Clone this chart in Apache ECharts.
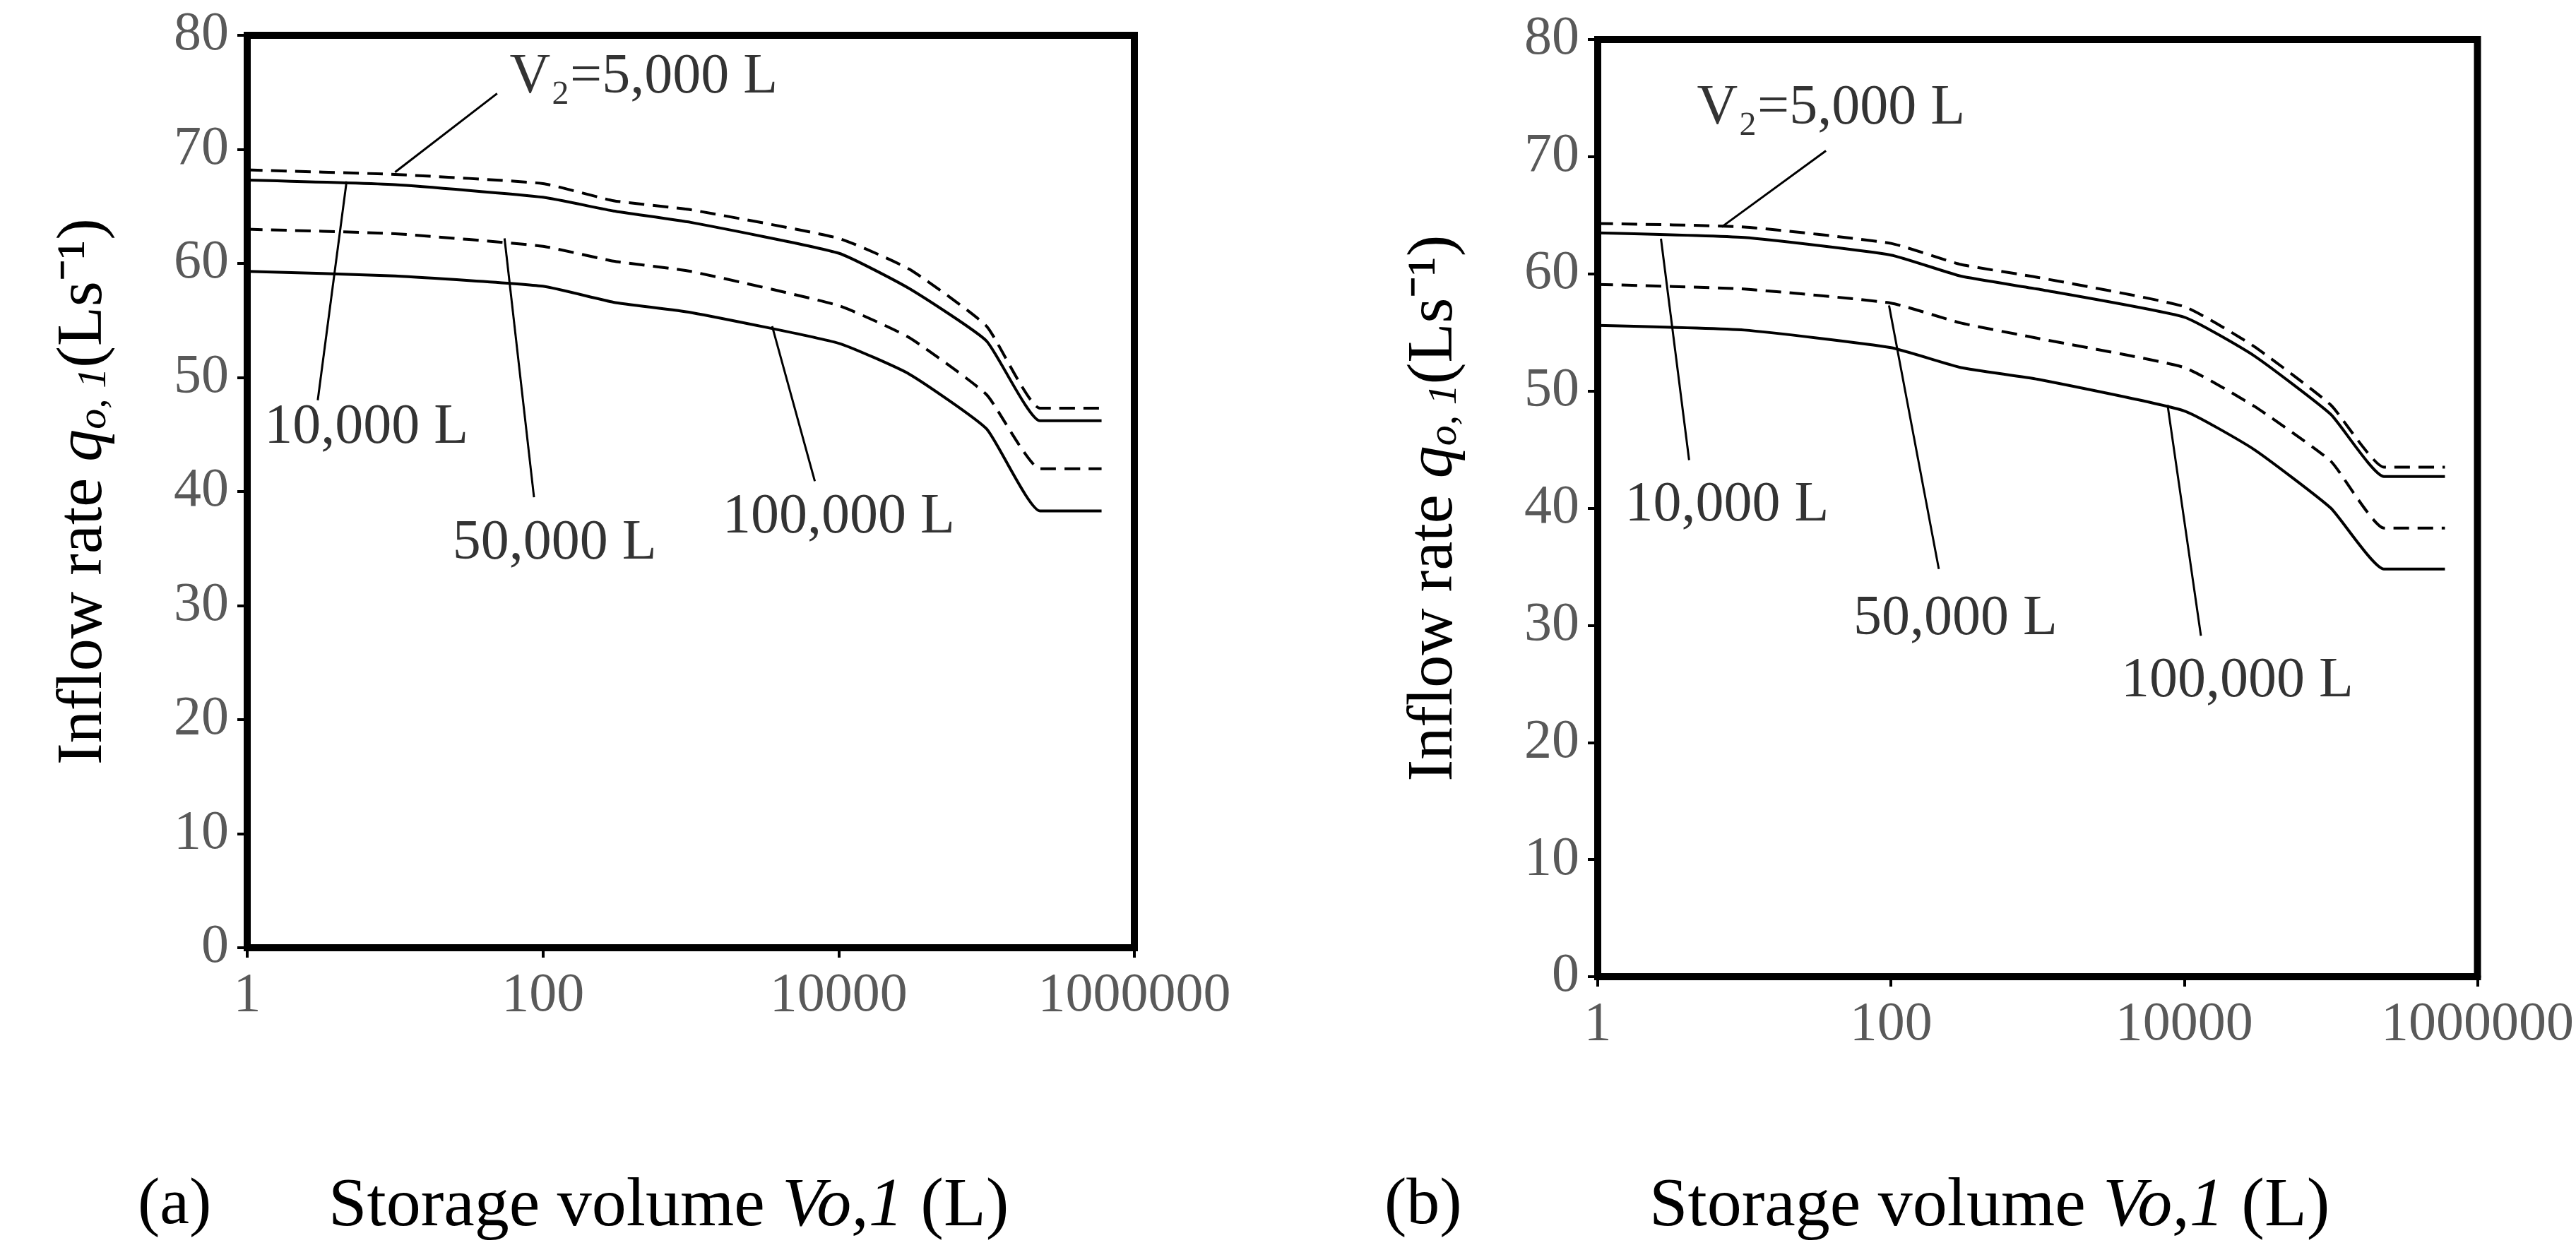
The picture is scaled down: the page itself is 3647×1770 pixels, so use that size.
<!DOCTYPE html>
<html><head><meta charset="utf-8">
<script src="https://cdn.jsdelivr.net/npm/echarts@6/dist/echarts.min.js"></script>
<style>html,body{margin:0;background:#fff}#c{width:3647px;height:1770px}</style>
</head><body><div id="c"></div>
<script>
// storage volume Vo,1 (L)
const volumes = [1, 10, 100, 300, 1000, 10000, 30000, 100000, 230000, 600000];

// panel (a) inflow rate (L/s) for each V2
const a5000   = [68.2, 67.8, 67.0, 65.5, 64.7, 62.2, 59.5, 54.5, 47.3, 47.3];
const a10000  = [67.3, 66.9, 65.8, 64.6, 63.6, 60.9, 57.8, 53.2, 46.2, 46.2];
const a50000  = [63.0, 62.6, 61.5, 60.2, 59.3, 56.3, 53.5, 48.5, 42.0, 42.0];
const a100000 = [59.3, 58.9, 58.0, 56.6, 55.7, 53.0, 50.3, 45.5, 38.3, 38.3];

// panel (b)
const b5000   = [64.3, 64.0, 62.6, 60.8, 59.7, 57.2, 53.8, 48.8, 43.5, 43.5];
const b10000  = [63.5, 63.1, 61.6, 59.8, 58.7, 56.3, 53.0, 48.0, 42.7, 42.7];
const b50000  = [59.1, 58.7, 57.5, 55.8, 54.5, 52.0, 48.7, 44.0, 38.3, 38.3];
const b100000 = [55.6, 55.2, 53.7, 52.0, 51.0, 48.3, 45.0, 40.0, 34.8, 34.8];

const xTicks = [1, 100, 10000, 1000000];
const yTicks = [0, 10, 20, 30, 40, 50, 60, 70, 80];

// annotations: [text, textPos, leaderFrom, leaderTo]
const annA = [
  ['V₂=5,000 L', [480, 76.3], [10, 68], [49, 74.9]],
  ['10,000 L', [6.4, 45.6], [4.7, 67.2], [3, 48]],
  ['50,000 L', [120, 35.4], [55, 62.2], [87, 39.5]],
  ['100,000 L', [10000, 37.7], [3550, 54.5], [6900, 40.9]]
];
const annB = [
  ['V₂=5,000 L', [39, 74.1], [7, 64], [36, 70.5]],
  ['10,000 L', [7.6, 40.2], [2.7, 63], [4.2, 44.1]],
  ['50,000 L', [275, 30.5], [97, 57.3], [212, 34.8]],
  ['100,000 L', [23000, 25.2], [7700, 48.8], [13000, 29.1]]
];

const serif = 'Liberation Serif';
const chart = echarts.init(document.getElementById('c'));

function pair(ys) { return volumes.map((v, i) => [v, ys[i]]); }
function line(ys, dashed, idx) {
  return {
    type: 'line', xAxisIndex: idx, yAxisIndex: idx, data: pair(ys),
    symbol: 'none', silent: true, smooth: 0.15,
    lineStyle: {color: '#000', width: 4, type: dashed ? [22, 12] : 'solid'}
  };
}
function notes(ann, idx) {
  return {
    type: 'scatter', xAxisIndex: idx, yAxisIndex: idx, symbolSize: 0, silent: true,
    data: ann.map(a => ({value: a[1], label: {formatter: a[0]}})),
    label: {show: true, position: 'inside', color: '#000', fontFamily: serif, fontSize: 80},
    markLine: {
      silent: true, symbol: 'none', lineStyle: {color: '#000', width: 3, type: 'solid'},
      label: {show: false},
      data: ann.map(a => [{coord: a[2]}, {coord: a[3]}])
    }
  };
}
function xAx(idx) {
  return {
    type: 'log', gridIndex: idx, min: 1, max: 1000000, logBase: 10, interval: 2,
    axisLine: {lineStyle: {color: '#000', width: 10}},
    axisTick: {show: true, length: 14, lineStyle: {color: '#000', width: 4}},
    axisLabel: {color: '#595959', fontFamily: serif, fontSize: 78, margin: 30,
      formatter: v => xTicks.includes(Math.round(v)) ? String(Math.round(v)) : ''},
    splitLine: {show: false}
  };
}
function yAx(idx) {
  return {
    type: 'value', gridIndex: idx, min: yTicks[0], max: yTicks[yTicks.length - 1], interval: 10,
    axisLine: {lineStyle: {color: '#000', width: 10}},
    axisTick: {show: true, length: 14, lineStyle: {color: '#000', width: 4}},
    axisLabel: {color: '#595959', fontFamily: serif, fontSize: 78, margin: 26},
    splitLine: {show: false},
    name: '{n|Inflow rate }{q|q}{s|o, 1}{n|(Ls⁻¹)}',
    nameLocation: 'middle', nameGap: 185, nameRotate: 90,
    nameTextStyle: {
      rich: {
        n: {fontFamily: serif, fontSize: 92, color: '#000'},
        q: {fontFamily: serif, fontSize: 92, fontStyle: 'italic', color: '#000'},
        s: {fontFamily: serif, fontSize: 58, fontStyle: 'italic', color: '#000', padding: [30, 0, 0, 0]}
      }
    }
  };
}

const xTitle = {
  text: '{n|Storage volume }{i|Vo,1}{n| (L)}',
  rich: {n: {font: '98px "Liberation Serif"', fill: '#000'},
         i: {font: 'italic 98px "Liberation Serif"', fill: '#000'}}
};

chart.setOption({
  backgroundColor: '#fff',
  animation: false,
  grid: [
    {left: 350, right: 2041, top: 50, bottom: 428, show: true, borderColor: '#000', borderWidth: 10},
    {left: 2262, right: 136, top: 56, bottom: 387, show: true, borderColor: '#000', borderWidth: 10}
  ],
  xAxis: [xAx(0), xAx(1)],
  yAxis: [yAx(0), yAx(1)],
  graphic: [
    {type: 'text', left: 195, top: 1660, style: {text: '(a)', font: '94px "Liberation Serif"', fill: '#000'}},
    {type: 'text', left: 1960, top: 1660, style: {text: '(b)', font: '94px "Liberation Serif"', fill: '#000'}},
    {type: 'text', left: 465, top: 1660, style: xTitle},
    {type: 'text', left: 2335, top: 1660, style: xTitle}
  ],
  series: [
    line(a5000, true, 0), line(a10000, false, 0), line(a50000, true, 0), line(a100000, false, 0),
    notes(annA, 0),
    line(b5000, true, 1), line(b10000, false, 1), line(b50000, true, 1), line(b100000, false, 1),
    notes(annB, 1)
  ]
});
</script></body></html>
